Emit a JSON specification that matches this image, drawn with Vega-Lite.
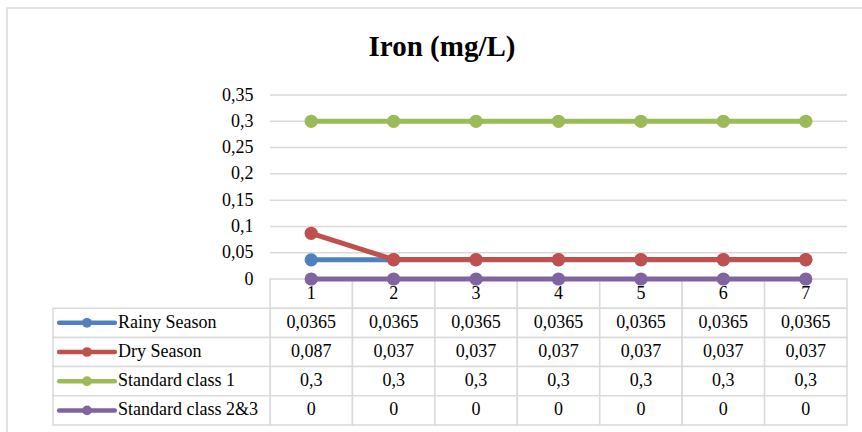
{
  "$schema": "https://vega.github.io/schema/vega-lite/v6.json",
  "width": 794,
  "height": 330,
  "autosize": {"type": "none"},
  "padding": {"left": 53, "top": 95, "right": 15, "bottom": 7},
  "background": "#ffffff",
  "title": {
    "text": "Iron (mg/L)",
    "font": "Liberation Serif, Times New Roman, serif",
    "fontSize": 29,
    "fontWeight": "bold",
    "color": "#000000",
    "anchor": "middle",
    "frame": "group",
    "baseline": "alphabetic",
    "dx": -8,
    "offset": -78
  },
  "config": {
    "view": {"stroke": null},
    "locale": {
      "number": {"decimal": ",", "thousands": ".", "grouping": [3], "currency": ["", ""]}
    },
    "font": "Liberation Serif, Times New Roman, serif",
    "text": {"font": "Liberation Serif, Times New Roman, serif", "fontSize": 18, "color": "#000000"}
  },
  "datasets": {
    "iron": [
      {"station": 1, "series": "Rainy Season", "value": 0.0365},
      {"station": 2, "series": "Rainy Season", "value": 0.0365},
      {"station": 3, "series": "Rainy Season", "value": 0.0365},
      {"station": 4, "series": "Rainy Season", "value": 0.0365},
      {"station": 5, "series": "Rainy Season", "value": 0.0365},
      {"station": 6, "series": "Rainy Season", "value": 0.0365},
      {"station": 7, "series": "Rainy Season", "value": 0.0365},
      {"station": 1, "series": "Dry Season", "value": 0.087},
      {"station": 2, "series": "Dry Season", "value": 0.037},
      {"station": 3, "series": "Dry Season", "value": 0.037},
      {"station": 4, "series": "Dry Season", "value": 0.037},
      {"station": 5, "series": "Dry Season", "value": 0.037},
      {"station": 6, "series": "Dry Season", "value": 0.037},
      {"station": 7, "series": "Dry Season", "value": 0.037},
      {"station": 1, "series": "Standard class 1", "value": 0.3},
      {"station": 2, "series": "Standard class 1", "value": 0.3},
      {"station": 3, "series": "Standard class 1", "value": 0.3},
      {"station": 4, "series": "Standard class 1", "value": 0.3},
      {"station": 5, "series": "Standard class 1", "value": 0.3},
      {"station": 6, "series": "Standard class 1", "value": 0.3},
      {"station": 7, "series": "Standard class 1", "value": 0.3},
      {"station": 1, "series": "Standard class 2&3", "value": 0},
      {"station": 2, "series": "Standard class 2&3", "value": 0},
      {"station": 3, "series": "Standard class 2&3", "value": 0},
      {"station": 4, "series": "Standard class 2&3", "value": 0},
      {"station": 5, "series": "Standard class 2&3", "value": 0},
      {"station": 6, "series": "Standard class 2&3", "value": 0},
      {"station": 7, "series": "Standard class 2&3", "value": 0}
    ],
    "ticks": [
      {"tick": 0.05}, {"tick": 0.1}, {"tick": 0.15}, {"tick": 0.2},
      {"tick": 0.25}, {"tick": 0.3}, {"tick": 0.35}
    ]
  },
  "layer": [
    {
      "description": "Data table under the plot: station header, legend column and values",
      "layer": [
        {
          "data": {"name": "iron"},
          "transform": [{"filter": {"field": "series", "equal": "Rainy Season"}}],
          "mark": {"type": "rect", "fill": "#ffffff", "stroke": "#d9d9d9", "strokeWidth": 1.5, "xOffset": -41.2, "x2Offset": 41.2},
          "encoding": {
            "x": {"field": "station", "type": "quantitative", "scale": {"domain": [-2.1325, 7.5], "nice": false, "zero": false}, "axis": null},
            "x2": {"field": "station"},
            "y": {"datum": "Station", "type": "nominal", "scale": {"type": "band", "domain": ["Station", "Rainy Season", "Dry Season", "Standard class 1", "Standard class 2&3"], "range": [184, 330], "paddingInner": 0, "paddingOuter": 0}, "axis": null}
          }
        },
        {
          "data": {"name": "iron"},
          "transform": [{"filter": {"field": "series", "equal": "Rainy Season"}}],
          "mark": {"type": "text", "align": "center", "baseline": "middle", "font": "Liberation Serif, Times New Roman, serif", "fontSize": 18, "color": "#000000"},
          "encoding": {
            "x": {"field": "station", "type": "quantitative", "axis": null},
            "y": {"datum": "Station", "type": "nominal", "axis": null},
            "text": {"field": "station", "type": "quantitative"}
          }
        },
        {
          "data": {"name": "iron"},
          "mark": {"type": "rect", "fill": "#ffffff", "stroke": "#d9d9d9", "strokeWidth": 1.5, "xOffset": -41.2, "x2Offset": 41.2},
          "encoding": {
            "x": {"field": "station", "type": "quantitative", "axis": null},
            "x2": {"field": "station"},
            "y": {"field": "series", "type": "nominal", "axis": null}
          }
        },
        {
          "data": {"name": "iron"},
          "mark": {"type": "text", "align": "center", "baseline": "middle", "font": "Liberation Serif, Times New Roman, serif", "fontSize": 18, "color": "#000000"},
          "encoding": {
            "x": {"field": "station", "type": "quantitative", "axis": null},
            "y": {"field": "series", "type": "nominal", "axis": null},
            "text": {"field": "value", "type": "quantitative", "format": "~g"}
          }
        },
        {
          "data": {"name": "iron"},
          "transform": [{"filter": {"field": "station", "equal": 1}}],
          "mark": {"type": "rect", "fill": "#ffffff", "stroke": "#d9d9d9", "strokeWidth": 1.5},
          "encoding": {
            "x": {"datum": -2.1325, "type": "quantitative", "axis": null},
            "x2": {"datum": 0.5},
            "y": {"field": "series", "type": "nominal", "axis": null}
          }
        },
        {
          "data": {"name": "iron"},
          "transform": [{"filter": {"field": "station", "equal": 1}}],
          "mark": {"type": "rule", "strokeWidth": 4.5, "strokeCap": "round"},
          "encoding": {
            "x": {"datum": -2.058, "type": "quantitative", "axis": null},
            "x2": {"datum": -1.382},
            "y": {"field": "series", "type": "nominal", "axis": null},
            "color": {"field": "series", "type": "nominal", "scale": {"domain": ["Rainy Season", "Dry Season", "Standard class 1", "Standard class 2&3"], "range": ["#4f81bd", "#c0504d", "#9bbb59", "#8064a2"]}, "legend": null}
          }
        },
        {
          "data": {"name": "iron"},
          "transform": [{"filter": {"field": "station", "equal": 1}}],
          "mark": {"type": "circle", "size": 95, "opacity": 1},
          "encoding": {
            "x": {"datum": -1.72, "type": "quantitative", "axis": null},
            "y": {"field": "series", "type": "nominal", "axis": null},
            "color": {"field": "series", "type": "nominal", "legend": null}
          }
        },
        {
          "data": {"name": "iron"},
          "transform": [{"filter": {"field": "station", "equal": 1}}],
          "mark": {"type": "text", "align": "left", "baseline": "middle", "font": "Liberation Serif, Times New Roman, serif", "fontSize": 18, "color": "#000000"},
          "encoding": {
            "x": {"datum": -1.344, "type": "quantitative", "axis": null},
            "y": {"field": "series", "type": "nominal", "axis": null},
            "text": {"field": "series", "type": "nominal"}
          }
        }
      ]
    },
    {
      "description": "Line chart of iron concentration with its value axis",
      "layer": [
        {
          "data": {"values": [{}]},
          "mark": {"type": "rect", "fillOpacity": 0, "stroke": "#d9d9d9", "strokeWidth": 1.5},
          "encoding": {
            "x": {"datum": -2.69, "type": "quantitative", "axis": null},
            "x2": {"datum": 8.4},
            "y": {
              "datum": 0.5155, "type": "quantitative",
              "scale": {"domain": [0, 0.35], "range": [184, 0], "nice": false, "zero": false},
              "axis": {
                "values": [0, 0.05, 0.1, 0.15, 0.2, 0.25, 0.3, 0.35],
                "format": "~g",
                "offset": -217,
                "domain": false,
                "ticks": false,
                "grid": false,
                "title": null,
                "labelPadding": 17,
                "labelFont": "Liberation Serif, Times New Roman, serif",
                "labelFontSize": 18,
                "labelColor": "#000000"
              }
            },
            "y2": {"datum": -0.4}
          }
        },
        {
          "data": {"name": "ticks"},
          "mark": {"type": "rule", "stroke": "#d9d9d9", "strokeWidth": 1.5},
          "encoding": {
            "x": {"datum": 0.5, "type": "quantitative", "axis": null},
            "x2": {"datum": 7.5},
            "y": {"field": "tick", "type": "quantitative"}
          }
        },
        {
          "data": {"name": "iron"},
          "mark": {"type": "line", "strokeWidth": 5},
          "encoding": {
            "x": {"field": "station", "type": "quantitative", "axis": null},
            "y": {"field": "value", "type": "quantitative"},
            "color": {"field": "series", "type": "nominal", "sort": null, "legend": null}
          }
        },
        {
          "data": {"name": "iron"},
          "mark": {"type": "circle", "size": 175, "opacity": 1},
          "encoding": {
            "x": {"field": "station", "type": "quantitative", "axis": null},
            "y": {"field": "value", "type": "quantitative"},
            "color": {"field": "series", "type": "nominal", "legend": null}
          }
        }
      ]
    }
  ],
  "resolve": {"scale": {"y": "independent"}}
}
